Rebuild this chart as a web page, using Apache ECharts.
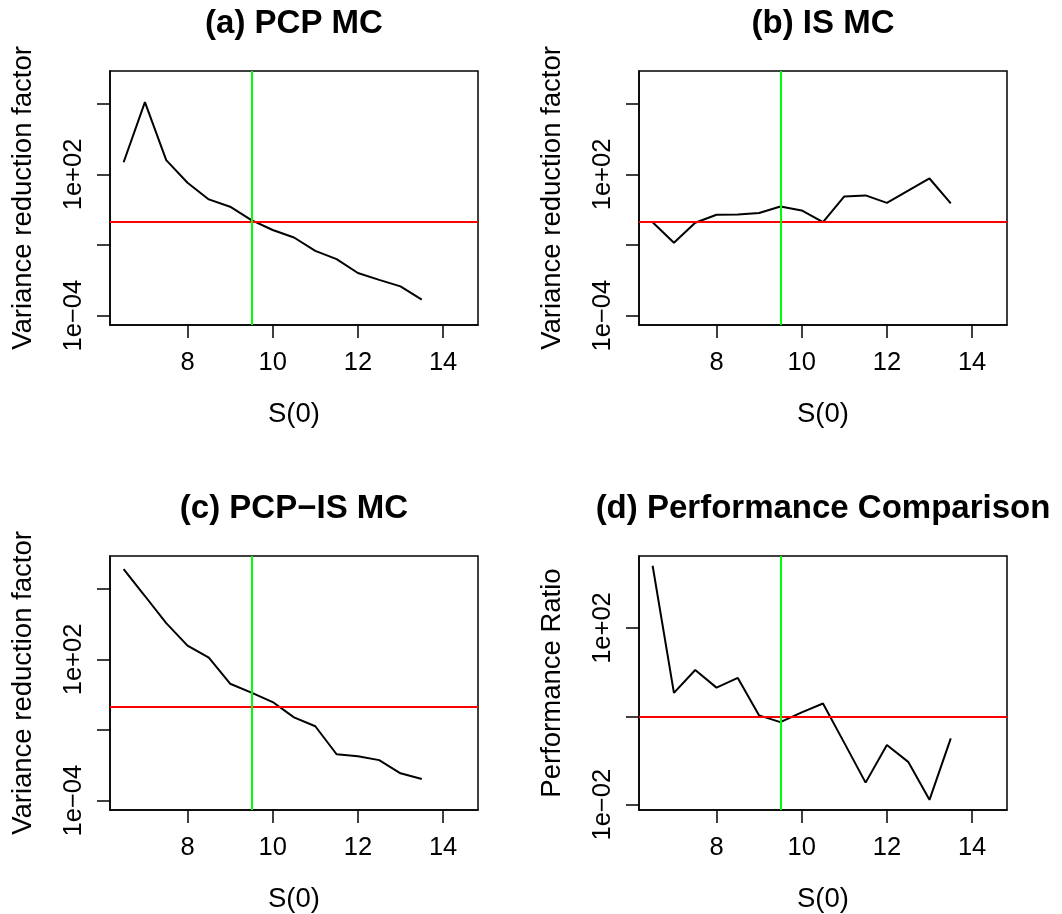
<!DOCTYPE html>
<html>
<head>
<meta charset="utf-8">
<script src="https://cdn.jsdelivr.net/npm/echarts@6/dist/echarts.min.js"></script>
<style>
  html, body { margin: 0; padding: 0; background: #fff; }
  #main { width: 1062px; height: 914px; }
</style>
</head>
<body>
<div id="main"></div>
<script>
// x values, S(0)
var s0 = [6.5, 7, 7.5, 8, 8.5, 9, 9.5, 10, 10.5, 11, 11.5, 12, 12.5, 13, 13.5];

// (a) PCP MC variance reduction factor
var pcpMC = [331, 1.2e5, 407, 44.7, 8.7, 4.27, 1.15, 0.436, 0.209, 0.0562, 0.0251, 0.00646, 0.00331, 0.00174, 0.000479];
// (b) IS MC
var isMC = [0.93, 0.126, 0.89, 1.95, 2.0, 2.29, 4.37, 2.95, 0.95, 11.7, 12.9, 6.17, 20.4, 67.6, 5.89];
// (c) PCP-IS MC
var pcpIsMC = [6.9e5, 5.0e4, 3.5e3, 389, 120, 9.3, 3.9, 1.55, 0.347, 0.145, 0.00933, 0.00776, 0.00525, 0.00145, 0.000832];
// (d) performance ratio
var perfRatio = [2570, 3.39, 11.2, 4.47, 7.41, 1.05, 0.741, 1.23, 1.95, 0.251, 0.0316, 0.224, 0.0933, 0.0129, 0.316];

var titles = ['(a) PCP MC', '(b) IS MC', '(c) PCP\u2212IS MC', '(d) Performance Comparison'];
var yNames = ['Variance reduction factor', 'Variance reduction factor', 'Variance reduction factor', 'Performance Ratio'];
var xTicks = [8, 10, 12, 14];
// tick positions / labelled ticks, as powers of ten
var yTickExp = [[-4, -1, 2, 5], [-4, -1, 2, 5], [-4, -1, 2, 5], [-2, 0, 2]];
var yLabelExp = [[-4, 2], [-4, 2], [-4, 2], [-2, 2]];
var refY = 1;     // red line
var refX = 9.5;   // green line

var panels = [pcpMC, isMC, pcpIsMC, perfRatio];
var yRange = [[-4.4, 6.4], [-4.4, 6.4], [-4.4, 6.4], [-2.12, 3.63]];
var lefts = [110, 639, 110, 639];
var tops = [71, 71, 556, 556];
var W = 368, H = 254;
var font = '"Liberation Sans", Arial, Helvetica, sans-serif';

function sci(v) {
  var e = Math.round(v);
  var a = Math.abs(e);
  return '1e' + (e < 0 ? '\u2212' : '+') + (a < 10 ? '0' + a : '' + a);
}

var grid = [], xAxis = [], yAxis = [], series = [], title = [];
for (var i = 0; i < 4; i++) {
  grid.push({
    left: lefts[i], top: tops[i], width: W, height: H,
    show: true, borderColor: '#000', borderWidth: 1.5, backgroundColor: 'transparent'
  });
  title.push({
    text: titles[i],
    left: lefts[i] + W / 2, top: tops[i] - 64,
    textAlign: 'center', padding: 0,
    textStyle: { fontFamily: font, fontSize: 33, fontWeight: 'bold', color: '#000' }
  });
  xAxis.push({
    type: 'value', gridIndex: i, min: 6.18, max: 14.82,
    name: 'S(0)', nameLocation: 'middle', nameGap: 75,
    nameTextStyle: { fontFamily: font, fontSize: 27.5, color: '#000' },
    axisLine: { show: true, onZero: false, lineStyle: { color: '#000', width: 1.5 } },
    axisTick: { show: true, length: 13, customValues: xTicks, lineStyle: { color: '#000', width: 1.5 } },
    axisLabel: { customValues: xTicks, margin: 25, fontFamily: font, fontSize: 25.5, color: '#000' },
    splitLine: { show: false }
  });
  yAxis.push({
    type: 'value', gridIndex: i, min: yRange[i][0], max: yRange[i][1],
    name: yNames[i], nameLocation: 'middle', nameGap: 73, nameRotate: 90,
    nameTextStyle: { fontFamily: font, fontSize: 27.5, color: '#000' },
    axisLine: { show: true, onZero: false, lineStyle: { color: '#000', width: 1.5 } },
    axisTick: { show: true, length: 13, customValues: yTickExp[i], lineStyle: { color: '#000', width: 1.5 } },
    axisLabel: { customValues: yLabelExp[i], rotate: 90, margin: 23, formatter: sci,
      fontFamily: font, fontSize: 25.5, color: '#000' },
    splitLine: { show: false }
  });
  var vals = panels[i];
  series.push({
    type: 'line', xAxisIndex: i, yAxisIndex: i,
    data: s0.map(function (x, k) { return [x, Math.log10(vals[k])]; }),
    symbol: 'none', silent: true,
    lineStyle: { color: '#000', width: 2 },
    markLine: {
      silent: true, symbol: ['none', 'none'], label: { show: false },
      animation: false,
      data: [
        { yAxis: Math.log10(refY), lineStyle: { color: '#ff0000', width: 2, type: 'solid' } },
        { xAxis: refX, lineStyle: { color: '#00ff00', width: 2, type: 'solid' } }
      ]
    }
  });
}

var chart = echarts.init(document.getElementById('main'), null, { renderer: 'canvas' });
chart.setOption({
  backgroundColor: '#fff',
  animation: false,
  title: title,
  grid: grid,
  xAxis: xAxis,
  yAxis: yAxis,
  series: series
});
</script>
</body>
</html>
